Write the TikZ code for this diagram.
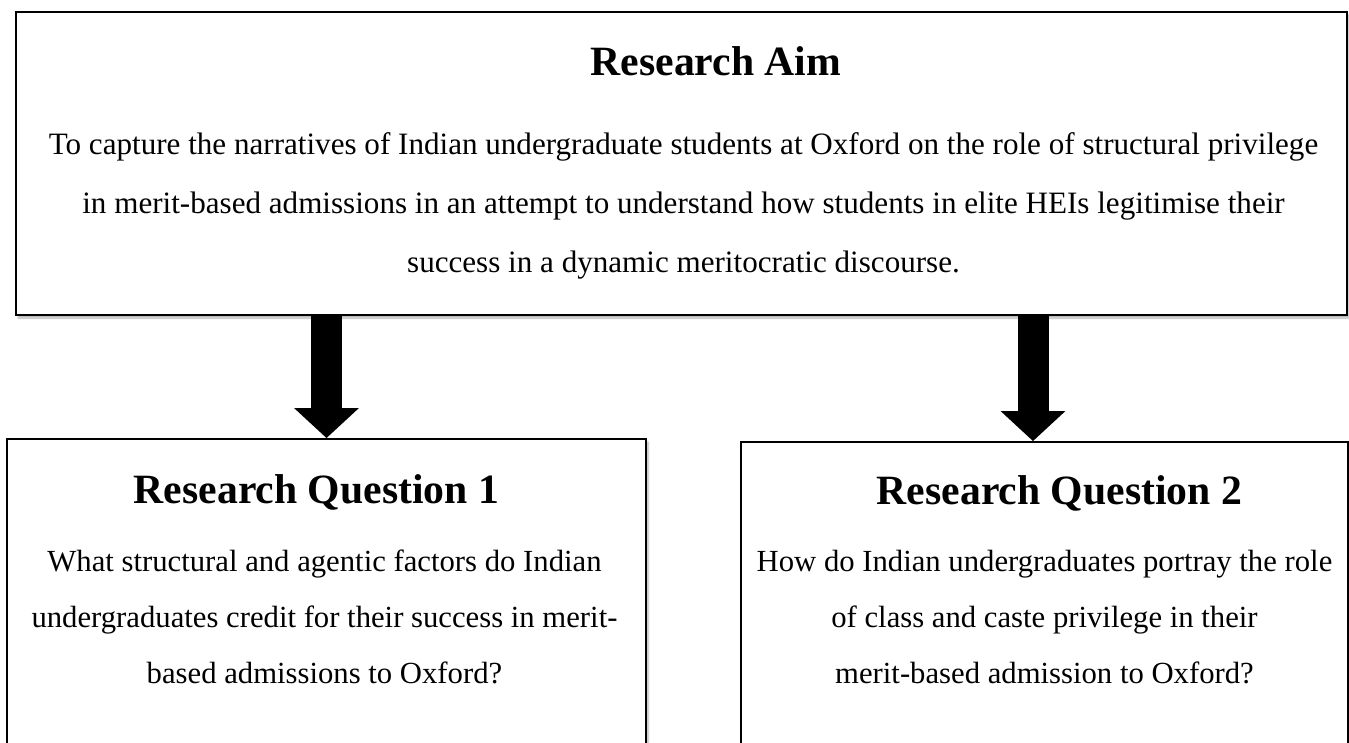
\documentclass[tikz,border=0pt]{standalone}
\usepackage{fontspec}
\setmainfont{Liberation Serif}
\usetikzlibrary{positioning,arrows.meta,shadows.blur,calc}

\tikzset{
  box/.style={draw, line width=1.8pt, fill=white, inner sep=0pt,
    blur shadow={shadow xshift=2pt, shadow yshift=-3pt, shadow blur steps=6, shadow opacity=30}},
  headtext/.style={font=\fontsize{41.7}{49}\selectfont\bfseries, anchor=base, inner sep=0pt},
  bodytext/.style={font=\fontsize{31.1}{59}\selectfont, align=center, anchor=base, inner sep=0pt},
  qtext/.style={bodytext, font=\fontsize{30.7}{56}\selectfont},
  bigarrow/.style={line width=31pt, -{Triangle[width=63pt,length=30pt]}}
}

\begin{document}
\begin{tikzpicture}[x=1pt,y=1pt]
  \useasboundingbox (0,0) rectangle (1349,-743);

  % boxes
  \node[box, minimum width=1331pt, minimum height=303pt] (aim) at (681.5,-163.5) {};
  \node[box, minimum width=639pt, minimum height=361pt] (rq1) at (326.5,-619.5) {};
  \node[box, minimum width=607pt, minimum height=358pt] (rq2) at (1044.5,-621) {};

  % texts
  \node[headtext] (aimhead) at ([xshift=34.5pt, yshift=-64pt]aim.north) {Research Aim};
  \node[bodytext] (aimbody) at ([xshift=2pt, yshift=-261pt]aim.north) {To capture the narratives of Indian undergraduate students at Oxford on the role of structural privilege\\
    in merit-based admissions in an attempt to understand how students in elite HEIs legitimise their\\
    success in a dynamic meritocratic discourse.};

  \node[headtext] (rq1head) at ([xshift=-10pt, yshift=-65pt]rq1.north) {Research Question 1};
  \node[qtext] (rq1body) at ([xshift=-2pt, yshift=-245pt]rq1.north) {What structural and agentic factors do Indian\\
    undergraduates credit for their success in merit-\\
    based admissions to Oxford?};

  \node[headtext] (rq2head) at ([xshift=15pt, yshift=-63pt]rq2.north) {Research Question 2};
  \node[qtext] (rq2body) at ([xshift=0pt, yshift=-242pt]rq2.north) {How do Indian undergraduates portray the role\\
    of class and caste privilege in their\\
    merit-based admission to Oxford?};

  % arrows
  \draw[bigarrow] (rq1.north |- aim.south) -- (rq1.north);
  \draw[bigarrow] ([xshift=-11.5pt]rq2.north |- aim.south) -- ([xshift=-11.5pt]rq2.north);
\end{tikzpicture}
\end{document}
